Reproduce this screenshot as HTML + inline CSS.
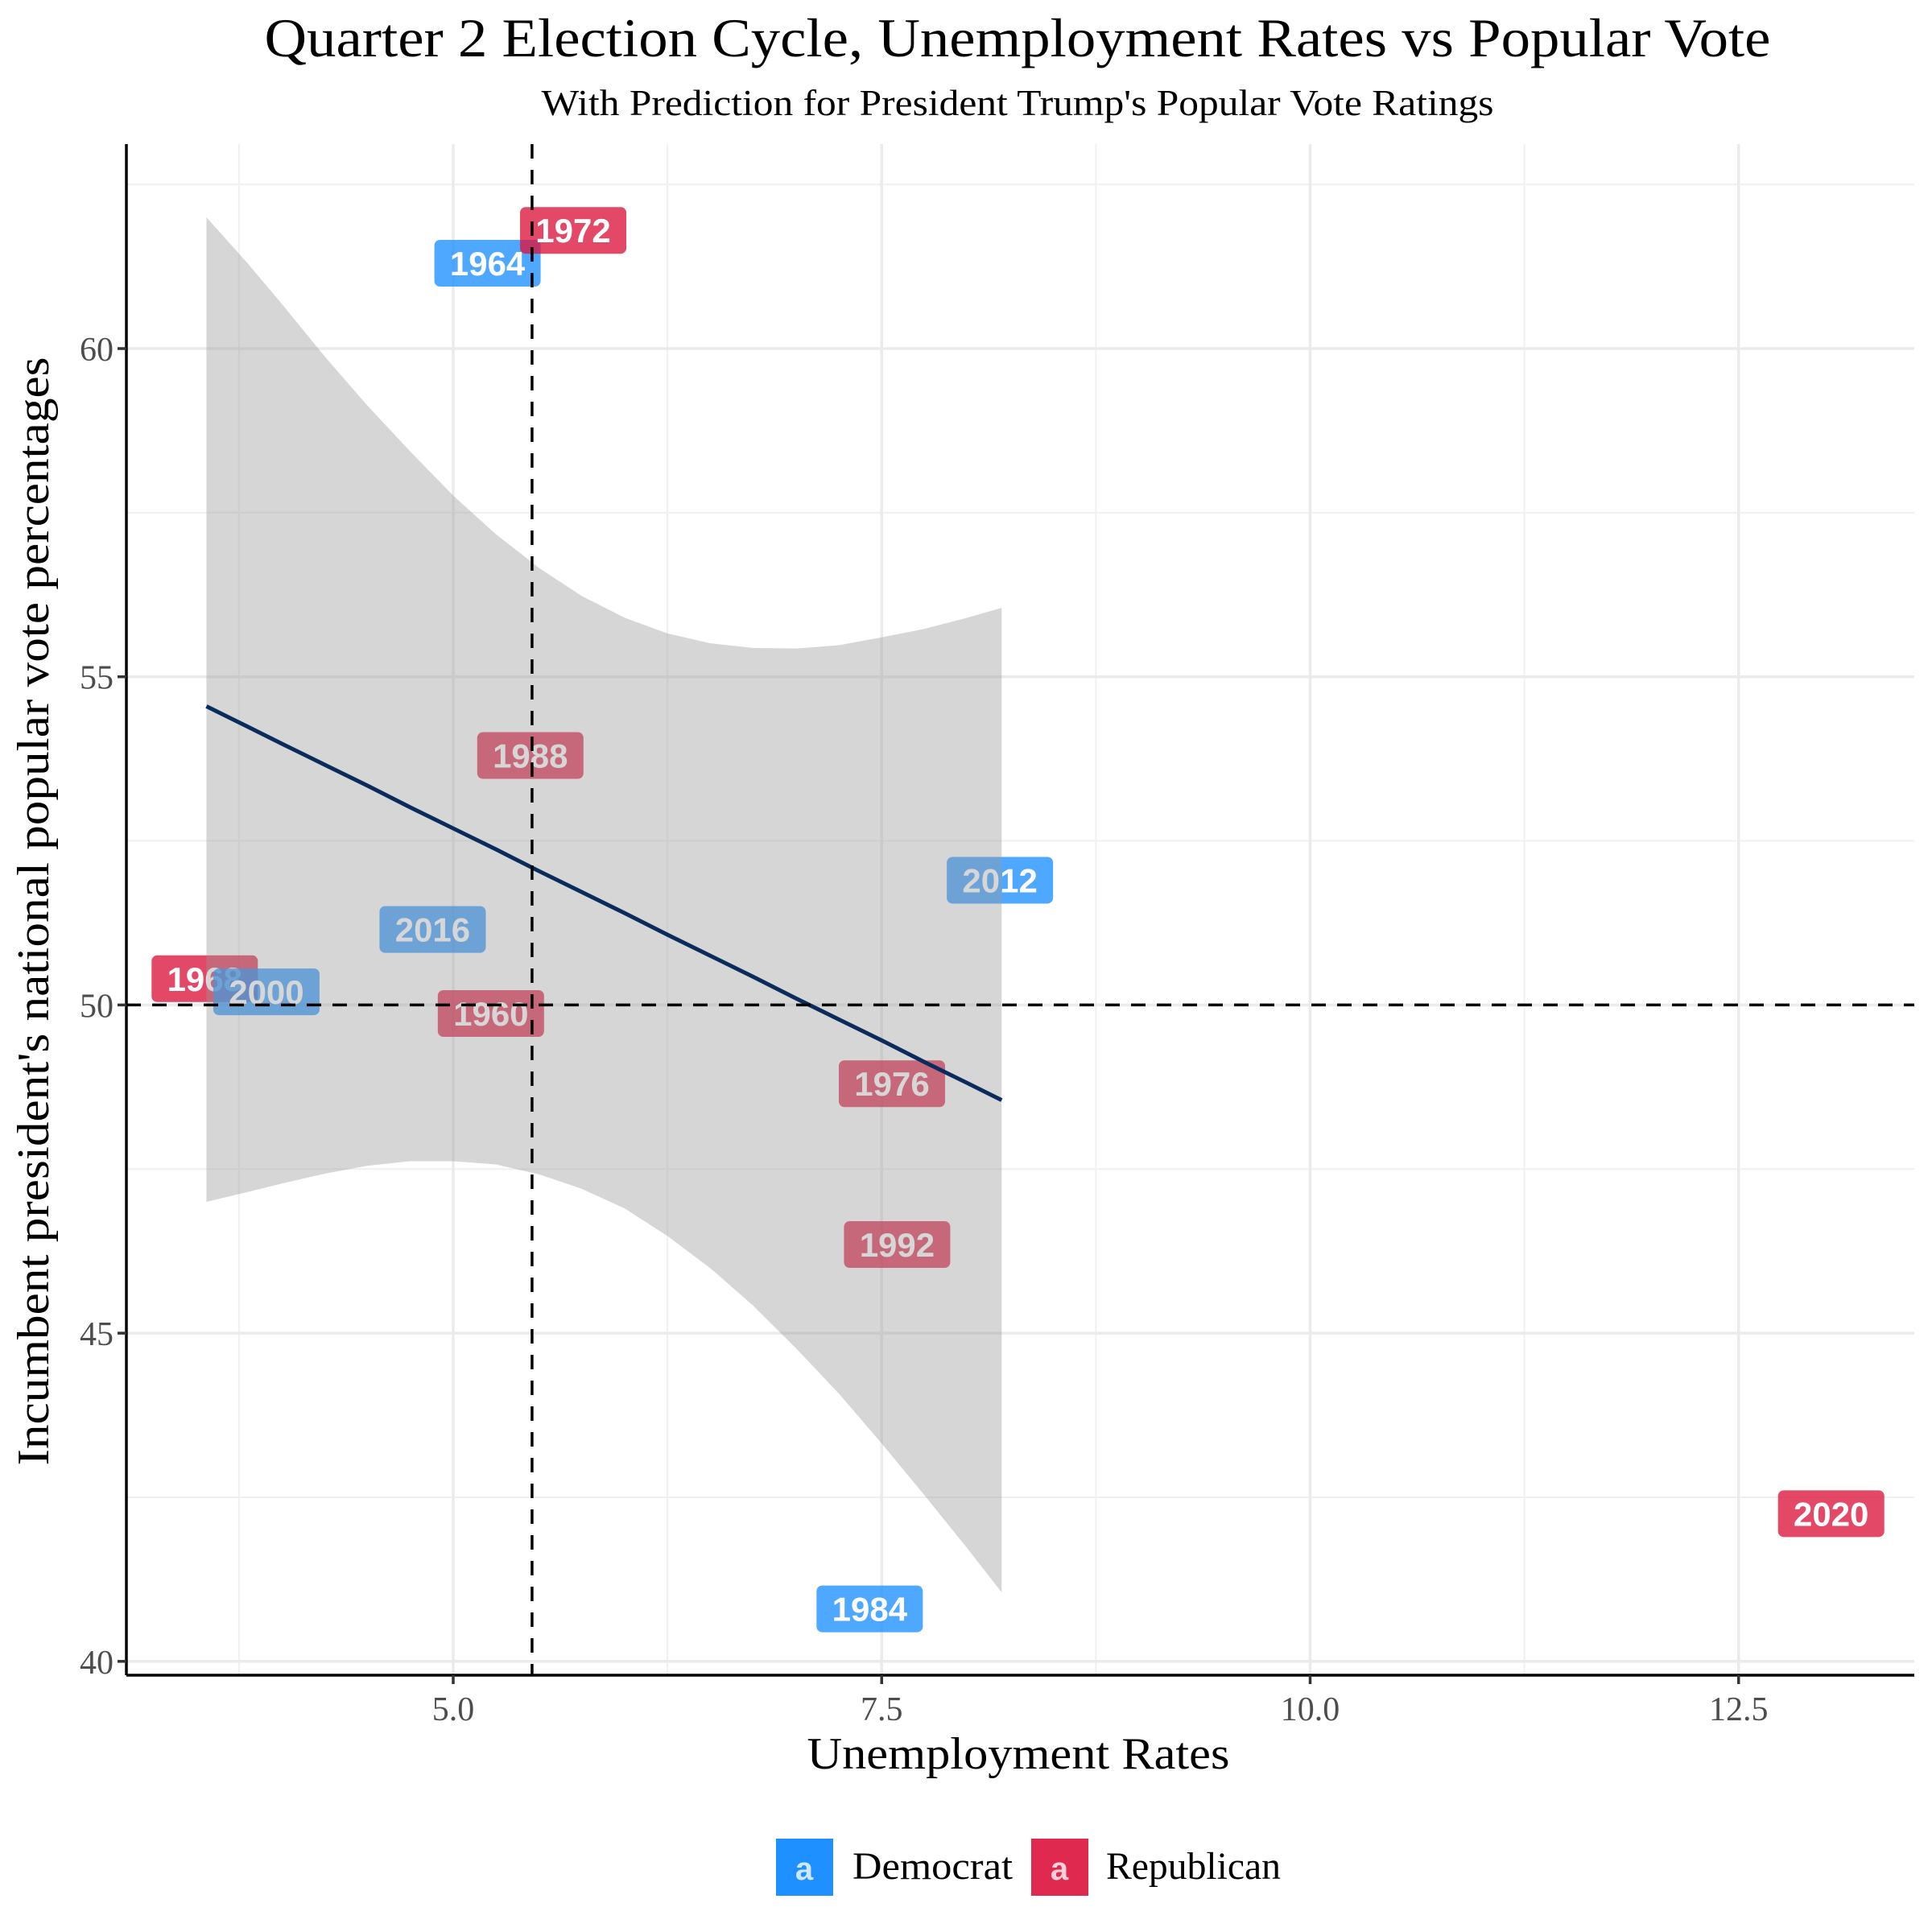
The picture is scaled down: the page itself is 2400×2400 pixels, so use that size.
<!DOCTYPE html>
<html><head><meta charset="utf-8"><style>
html,body{margin:0;padding:0;background:#fff;}
svg{display:block;}
</style></head><body>
<svg id="chart" width="2400" height="2400" xmlns="http://www.w3.org/2000/svg">
<text x="1264" y="70" text-anchor="middle" textLength="1871" lengthAdjust="spacingAndGlyphs" font-family="Liberation Serif, serif" font-size="68" fill="#000">Quarter 2 Election Cycle, Unemployment Rates vs Popular Vote</text>
<text x="1264" y="143" text-anchor="middle" textLength="1183" lengthAdjust="spacingAndGlyphs" font-family="Liberation Serif, serif" font-size="45" fill="#000">With Prediction for President Trump's Popular Vote Ratings</text>
<g id="grid"></g>
<g id="labels"></g>
<g id="fit"></g>
<g id="axes"></g>
<text x="1265" y="2197" text-anchor="middle" textLength="525" lengthAdjust="spacingAndGlyphs" font-family="Liberation Serif, serif" font-size="56" fill="#000">Unemployment Rates</text>
<text transform="translate(60,1132) rotate(-90)" text-anchor="middle" textLength="1377" lengthAdjust="spacingAndGlyphs" font-family="Liberation Serif, serif" font-size="56" fill="#000">Incumbent president's national popular vote percentages</text>
<g>
<g>
<rect x="964" y="2284" width="71" height="71" fill="#1E90FF"/>
<text x="999" y="2335" text-anchor="middle" font-family="Liberation Sans, sans-serif" font-weight="bold" font-size="40" fill="#cfe6ff">a</text>
<text x="1059" y="2334" textLength="199" lengthAdjust="spacingAndGlyphs" font-family="Liberation Serif, serif" font-size="48" fill="#000">Democrat</text>
</g>
<g>
<rect x="1281" y="2284" width="71" height="71" fill="#E0294F"/>
<text x="1316" y="2335" text-anchor="middle" font-family="Liberation Sans, sans-serif" font-weight="bold" font-size="40" fill="#ffd0da">a</text>
<text x="1374" y="2334" textLength="217" lengthAdjust="spacingAndGlyphs" font-family="Liberation Serif, serif" font-size="48" fill="#000">Republican</text>
</g>
</g>
</svg>
<script>
const years=["1960","1964","1968","1972","1976","1984","1988","1992","2000","2012","2016","2020"];
const unemp=[5.22,5.2,3.55,5.7,7.56,7.43,5.45,7.59,3.91,8.19,4.88,13.04];
const vote=[49.87,61.3,50.4,61.8,48.8,40.8,53.8,46.35,50.2,51.9,51.15,42.25];
const party=["R","D","R","R","R","D","R","R","D","D","D","R"];
const fitX=[3.56,3.8,4.0,4.25,4.5,4.75,5.0,5.25,5.5,5.75,6.0,6.25,6.5,6.75,7.0,7.25,7.5,7.75,8.0,8.2];
const fitY=[54.55,54.24,53.98,53.66,53.34,53.01,52.69,52.37,52.04,51.72,51.4,51.07,50.75,50.43,50.1,49.78,49.46,49.13,48.81,48.55];
const ciUpper=[62.0,61.3,60.68,59.88,59.13,58.43,57.76,57.17,56.66,56.23,55.9,55.66,55.51,55.44,55.43,55.48,55.6,55.73,55.9,56.05];
const ciLower=[47.0,47.15,47.28,47.43,47.55,47.62,47.62,47.57,47.42,47.2,46.9,46.48,45.99,45.42,44.77,44.08,43.32,42.53,41.72,41.05];
const xTicks=[5.0,7.5,10.0,12.5];
const xTickLabels=["5.0","7.5","10.0","12.5"];
const yTicks=[40,45,50,55,60];
const yTickLabels=["40","45","50","55","60"];
const xMinor=[3.75,6.25,8.75,11.25];
const yMinor=[42.5,47.5,52.5,57.5,62.5];
const vLine=5.46, hLine=50;

const L=157,R=2378,T=179,B=2081;
const X=v=>563+(v-5)*212.9;
const Y=v=>433-(v-60)*81.54;
const NS="http://www.w3.org/2000/svg";
function mk(tag,parent,attrs){const e=document.createElementNS(NS,tag);for(const k in attrs)e.setAttribute(k,attrs[k]);parent.appendChild(e);return e;}
const grid=document.getElementById('grid');
xMinor.forEach(v=>{const l=mk('line',grid,{x1:X(v),x2:X(v),y1:T,y2:B,stroke:'#f0f0f0','stroke-width':2});

});
yMinor.forEach(v=>{const l=mk('line',grid,{x1:L,x2:R,y1:Y(v),y2:Y(v),stroke:'#f0f0f0','stroke-width':2});

});
xTicks.forEach(v=>{const l=mk('line',grid,{x1:X(v),x2:X(v),y1:T,y2:B,stroke:'#ebebeb','stroke-width':3.5});

});
yTicks.forEach(v=>{const l=mk('line',grid,{x1:L,x2:R,y1:Y(v),y2:Y(v),stroke:'#ebebeb','stroke-width':3.5});

});

const lab=document.getElementById('labels');
years.forEach((yr,i)=>{
 const cx=X(unemp[i]),cy=Y(vote[i]);
 const g=mk('g',lab,{});
 
 
 mk('rect',g,{x:cx-66,y:cy-29,width:132,height:58,rx:7,fill:party[i]=="D"?"#1E90FF":"#DC143C",'fill-opacity':0.78});
 const t=mk('text',g,{x:cx,y:cy+15,'text-anchor':'middle','font-family':'Liberation Sans, sans-serif','font-weight':'bold','font-size':42,fill:'#fff'});
 t.textContent=yr;
});

const fit=document.getElementById('fit');
let d='';
fitX.forEach((v,i)=>{d+=(i?'L':'M')+X(v)+','+Y(ciUpper[i]);});
for(let i=fitX.length-1;i>=0;i--)d+='L'+X(fitX[i])+','+Y(ciLower[i]);
const band=mk('path',fit,{d:d+'Z',fill:'#999999','fill-opacity':0.4});


const ln=mk('polyline',fit,{points:fitX.map((v,i)=>X(v)+','+Y(fitY[i])).join(' '),fill:'none',stroke:'#0a2c5c','stroke-width':5});



const ax=document.getElementById('axes');
const vl=mk('line',ax,{x1:X(vLine),x2:X(vLine),y1:T,y2:B,stroke:'#000','stroke-width':3.5,'stroke-dasharray':'18,14'});


const hl=mk('line',ax,{x1:L,x2:R,y1:Y(hLine),y2:Y(hLine),stroke:'#000','stroke-width':3.5,'stroke-dasharray':'18,14'});


const xa=mk('line',ax,{x1:L,x2:R,y1:B,y2:B,stroke:'#000','stroke-width':3.5});


const ya=mk('line',ax,{x1:L,x2:L,y1:T,y2:B,stroke:'#000','stroke-width':3.5});


xTicks.forEach((v,i)=>{
 mk('line',ax,{x1:X(v),x2:X(v),y1:B,y2:B+11,stroke:'#333','stroke-width':3.5});
 const t=mk('text',ax,{x:X(v),y:B+56,'text-anchor':'middle','font-family':'Liberation Serif, serif','font-size':42,fill:'#4d4d4d'});
 t.textContent=xTickLabels[i];
 
 
});
yTicks.forEach((v,i)=>{
 mk('line',ax,{x1:L-11,x2:L,y1:Y(v),y2:Y(v),stroke:'#333','stroke-width':3.5});
 const t=mk('text',ax,{x:L-16,y:Y(v)+15,'text-anchor':'end','font-family':'Liberation Serif, serif','font-size':42,fill:'#4d4d4d'});
 t.textContent=yTickLabels[i];
 
 
});
</script>
</body></html>
